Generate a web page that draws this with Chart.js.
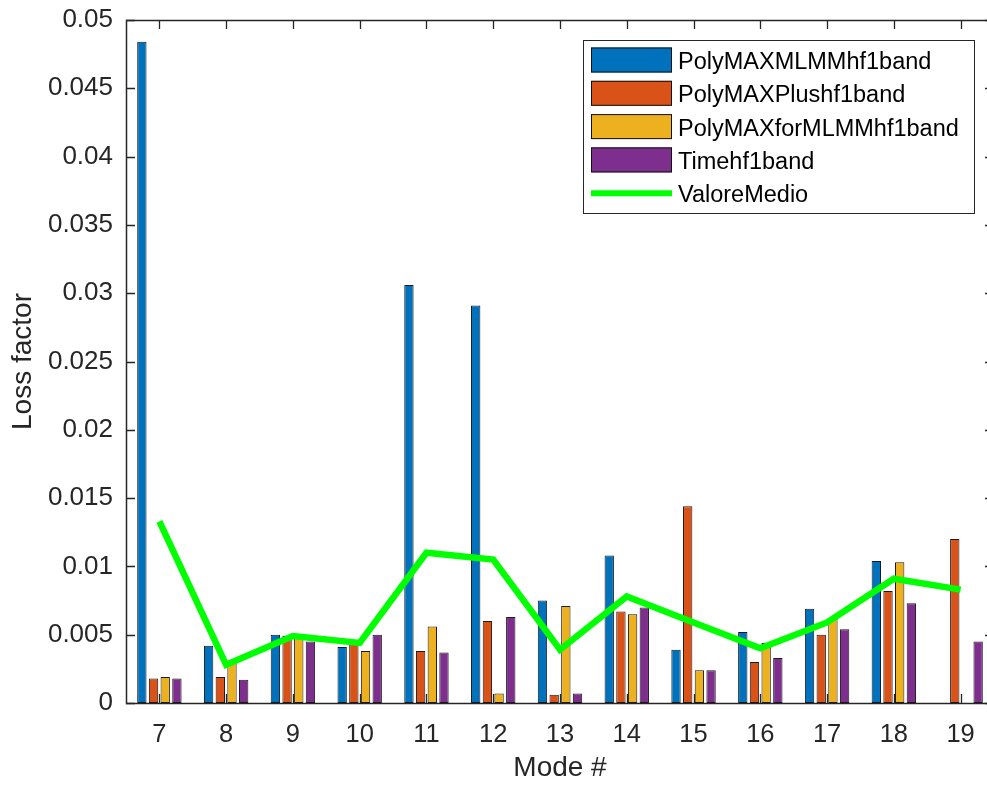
<!DOCTYPE html>
<html>
<head>
<meta charset="utf-8">
<script src="https://cdn.jsdelivr.net/npm/chart.js@4.4.0/dist/chart.umd.min.js"></script>
<style>
  html, body { margin: 0; padding: 0; background: #fff; overflow: hidden; }
  #wrap { width: 1000px; height: 785px; }
</style>
</head>
<body>
<div id="wrap"><canvas id="chart" width="1000" height="785"></canvas></div>
<script>
// mode numbers on the x axis
const modes = ['7', '8', '9', '10', '11', '12', '13', '14', '15', '16', '17', '18', '19'];

// loss factor per method (null = no value for that mode)
const polyMaxMlmm    = [0.0484, 0.0042, 0.0050, 0.0041, 0.0306, 0.0291, 0.0075, 0.0108, 0.0039, 0.0052, 0.0069, 0.0104, null];
const polyMaxPlus    = [0.0018, 0.0019, 0.0049, 0.0045, 0.0038, 0.0060, 0.0006, 0.0067, 0.0144, 0.0030, 0.0050, 0.0082, 0.0120];
const polyMaxForMlmm = [0.0019, 0.0031, 0.0050, 0.0038, 0.0056, 0.0007, 0.0071, 0.0065, 0.0024, 0.0044, 0.0062, 0.0103, null];
const timeBand       = [0.0018, 0.0017, 0.0045, 0.0050, 0.0037, 0.0063, 0.0007, 0.0070, 0.0024, 0.0033, 0.0054, 0.0073, 0.0045];
const valoreMedio    = [0.0133, 0.0028, 0.0049, 0.0044, 0.0110, 0.0105, 0.0039, 0.0078, 0.0059, 0.0040, 0.0059, 0.0091, 0.0083];

const yTicksMin = 0;
const yTicksMax = 0.05;
const yTickStep = 0.005;

const axisColor = '#262626';
Chart.defaults.font.family = "'Liberation Sans', Arial, Helvetica, sans-serif";

// matlab style box with inward ticks, drawn under the bars
const axesBox = {
  id: 'axesBox',
  beforeDatasetsDraw(chart) {
    const { ctx, chartArea: a, scales: { x, y } } = chart;
    const tl = 9;
    ctx.save();
    ctx.strokeStyle = axisColor;
    ctx.lineWidth = 1.3;
    ctx.beginPath();
    y.ticks.forEach(t => {
      const py = Math.round(y.getPixelForValue(t.value)) + 0.5;
      ctx.moveTo(a.left, py); ctx.lineTo(a.left + tl, py);
      ctx.moveTo(a.right, py); ctx.lineTo(a.right - tl, py);
    });
    x.ticks.forEach((t, i) => {
      const px = Math.round(x.getPixelForTick(i)) + 0.5;
      ctx.moveTo(px, a.top); ctx.lineTo(px, a.top + tl);
      ctx.moveTo(px, a.bottom); ctx.lineTo(px, a.bottom - tl);
    });
    ctx.stroke();
    ctx.lineWidth = 1.5;
    ctx.strokeRect(Math.round(a.left) + 0.5, Math.round(a.top) + 0.5,
                   Math.round(a.right - a.left), Math.round(a.bottom - a.top));
    ctx.restore();
  }
};

const legendBox = {
  id: 'legendBox',
  afterDraw(chart) {
    const ctx = chart.ctx;
    const x0 = 583, y0 = 40, w = 391, h = 173;
    ctx.save();
    ctx.fillStyle = '#fff';
    ctx.fillRect(x0, y0, w, h);
    ctx.strokeStyle = axisColor;
    ctx.lineWidth = 1;
    ctx.strokeRect(x0 + 0.5, y0 + 0.5, w, h);
    ctx.font = "23.5px 'Liberation Sans', Arial, sans-serif";
    ctx.textBaseline = 'alphabetic';
    chart.data.datasets.forEach((ds, i) => {
      const cy = 60 + i * 33.3;
      if (ds.type === 'line') {
        ctx.strokeStyle = ds.borderColor;
        ctx.lineWidth = 6;
        ctx.beginPath();
        ctx.moveTo(591, cy); ctx.lineTo(672, cy);
        ctx.stroke();
      } else {
        ctx.fillStyle = ds.backgroundColor;
        ctx.fillRect(591, cy - 12.5, 81, 25);
        ctx.strokeStyle = '#111';
        ctx.lineWidth = 1;
        ctx.strokeRect(591.5, cy - 12, 80, 24);
      }
      ctx.fillStyle = '#000';
      ctx.fillText(ds.label, 678, cy + 9);
    });
    ctx.restore();
  }
};

const barStyle = { borderColor: '#1a1a1a', borderWidth: 1, borderSkipped: false, categoryPercentage: 0.7, barPercentage: 0.8, order: 1 };

new Chart(document.getElementById('chart'), {
  type: 'bar',
  data: {
    labels: modes,
    datasets: [
      { label: 'PolyMAXMLMMhf1band', data: polyMaxMlmm, backgroundColor: '#0072BD', ...barStyle },
      { label: 'PolyMAXPlushf1band', data: polyMaxPlus, backgroundColor: '#D95319', ...barStyle },
      { label: 'PolyMAXforMLMMhf1band', data: polyMaxForMlmm, backgroundColor: '#EDB120', ...barStyle },
      { label: 'Timehf1band', data: timeBand, backgroundColor: '#7E2F8E', ...barStyle },
      { type: 'line', label: 'ValoreMedio', data: valoreMedio, borderColor: '#00FF00', backgroundColor: '#00FF00',
        borderWidth: 6.5, pointRadius: 0, tension: 0, order: 0 }
    ]
  },
  options: {
    responsive: false,
    animation: false,
    layout: { padding: { top: 20, right: 6, left: 0, bottom: 0 } },
    plugins: { legend: { display: false }, tooltip: { enabled: false } },
    scales: {
      x: {
        offset: true,
        grid: { display: false, drawTicks: false },
        border: { display: false },
        ticks: { color: axisColor, font: { size: 25.5 }, padding: 17, maxRotation: 0, autoSkip: false },
        title: { display: true, text: 'Mode #', color: axisColor, font: { size: 28 }, padding: { top: 0, bottom: 0 } },
        afterFit: s => { s.height = 82; s.paddingLeft = 0; s.paddingRight = 0; }
      },
      y: {
        min: yTicksMin,
        max: yTicksMax,
        grid: { display: false, drawTicks: false },
        border: { display: false },
        ticks: {
          stepSize: yTickStep,
          color: axisColor,
          font: { size: 26 },
          padding: 13,
          callback: v => String(Math.round(v * 1000) / 1000)
        },
        title: { display: true, text: 'Loss factor', color: axisColor, font: { size: 28 }, padding: { top: 6, bottom: 0 } },
        afterFit: s => { s.width = 126; s.paddingTop = 0; s.paddingBottom = 0; }
      }
    }
  },
  plugins: [axesBox, legendBox]
});
</script>
</body>
</html>
